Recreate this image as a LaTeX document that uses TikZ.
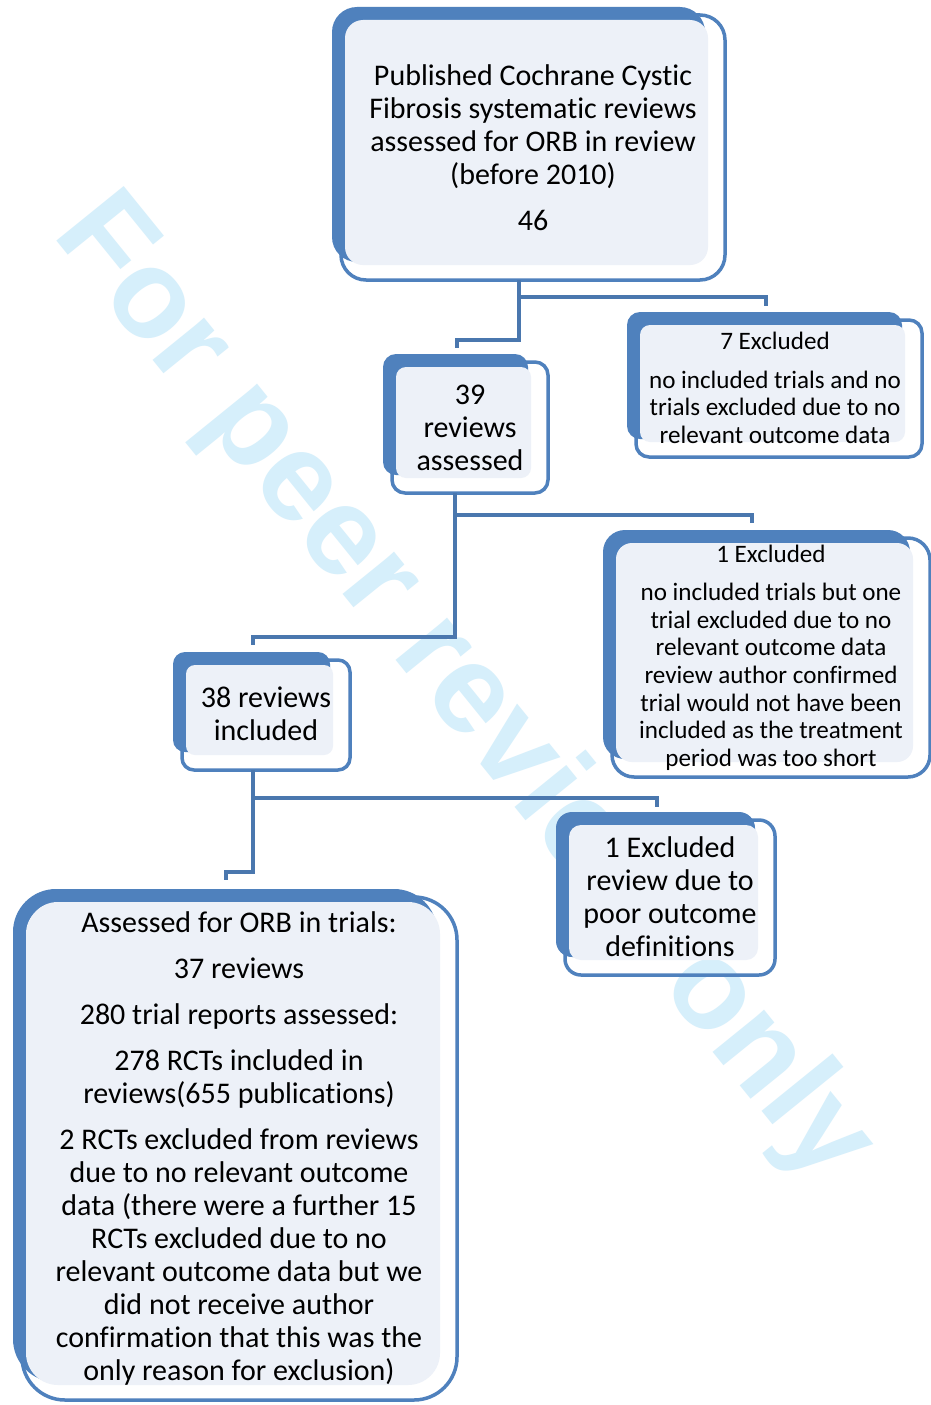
\documentclass[tikz,border=0pt]{standalone}
\usepackage{fontspec}
\setmainfont{Carlito}[Ligatures=NoCommon]
\newfontfamily\wmfont{Liberation Sans}[Ligatures=NoCommon]
\definecolor{backc}{HTML}{4F81BD}
\definecolor{fillc}{HTML}{EDF1F8}
\definecolor{linec}{HTML}{4A77AE}
\definecolor{wmcol}{HTML}{D6EFFB}
\tikzset{
  backbox/.style={fill=backc},
  fillbox/.style={fill=fillc},
  outbox/.style={draw=backc, line width=3.5pt, inner sep=0pt, outer sep=0pt},
  conn/.style={draw=linec, line width=4pt},
  bigtxt/.style={align=center, font=\fontsize{30}{33}\selectfont, inner sep=0pt},
  smalltxt/.style={align=center, font=\fontsize{25.1}{27.7}\selectfont, inner sep=0pt},
}
% name, L, T, R, B, radius, fill radius
\newcommand\obox[7]{%
  \fill[backbox, rounded corners=#6pt] (#2-9,#3-8) rectangle (#4-20,#5-18);
  \fill[fillbox, rounded corners=#7pt] (#2+4,#3+5) rectangle (#4-17,#5-15);
  \node[outbox, rounded corners=#6pt, minimum width={(#4-#2)*1pt}, minimum height={(#5-#3)*1pt}]
    (#1) at ({(#2+#4)/2},{(#3+#5)/2}) {};
}
\begin{document}
\begin{tikzpicture}[x=1pt, y=-1pt]
\useasboundingbox (0,0) rectangle (931,1405);
\fill[white] (0,0) rectangle (931,1405);
% watermark
\node[rotate=-51, text=wmcol, font=\fontsize{126}{126}\selectfont\wmfont\bfseries, inner sep=0pt] (wm) at (462,690) {For peer review only};

% boxes
\obox{b1}{341}{15}{725}{280}{25}{18}
\obox{b2}{392}{362}{548}{493}{13}{10}
\obox{b3}{636}{320}{922}{457}{13}{10}
\obox{b4}{612}{538}{930}{777}{22}{16}
\obox{b5}{182}{660}{350}{770}{12}{9}
\obox{b6}{565}{820}{775}{975}{16}{12}
\obox{b7}{22}{897}{457}{1400}{43}{32}

% texts
\node[bigtxt] (t1) at (533,148) {Published Cochrane Cystic\\Fibrosis systematic reviews\\assessed for ORB in review\\(before 2010)\\[13pt]46};
\node[bigtxt] (t2) at (470,428) {39\\reviews\\assessed};
\node[smalltxt] (t3) at (775,388) {7 Excluded\\[11pt]no included trials and no\\trials excluded due to no\\relevant outcome data};
\node[smalltxt] (t4) at (771,658) {1 Excluded\\[10pt]no included trials but one\\trial excluded due to no\\relevant outcome data\\review author confirmed\\trial would not have been\\included as the treatment\\period was too short};
\node[bigtxt] (t5) at (266,714) {38 reviews\\included};
\node[bigtxt] (t6) at (670,897) {1 Excluded\\review due to\\poor outcome\\definitions};
\node[bigtxt] (t7) at (239,1148) {Assessed for ORB in trials:\\[13pt]37 reviews\\[13pt]280 trial reports assessed:\\[13pt]278 RCTs included in\\reviews(655 publications)\\[13pt]2 RCTs excluded from reviews\\due to no relevant outcome\\data (there were a further 15\\RCTs excluded due to no\\relevant outcome data but we\\did not receive author\\confirmation that this was the\\only reason for exclusion)};

% connectors
\coordinate (e12) at (457,348);
\coordinate (e13) at (766,306);
\draw[conn] (b1.south) ++(-14,0) -- ++(0,60) -| (e12);
\draw[conn] (b1.south) ++(-14,17) -| (e13);
\coordinate (e25) at (253,645);
\coordinate (e24) at (752,523);
\draw[conn] (b2.south) ++(-15,0) -- ++(0,144) -| (e25);
\draw[conn] (b2.south) ++(-15,22) -| (e24);
\coordinate (e57) at (226,880);
\coordinate (e56) at (657,807);
\draw[conn] (b5.south) ++(-13,0) -- ++(0,102) -| (e57);
\draw[conn] (b5.south) ++(-13,28) -| (e56);
\end{tikzpicture}
\end{document}
